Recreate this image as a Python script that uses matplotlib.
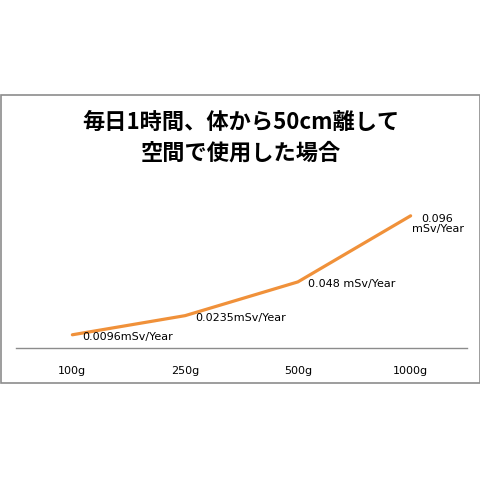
import matplotlib
matplotlib.use("Agg")
import matplotlib.pyplot as plt
from matplotlib.patches import Rectangle

plt.rcParams['font.family'] = ['Noto Sans CJK JP', 'DejaVu Sans']

# data
categories = ['100g', '250g', '500g', '1000g']
dose = [0.0096, 0.0235, 0.048, 0.096]
point_labels = ['0.0096mSv/Year', '0.0235mSv/Year', '0.048 mSv/Year', '0.096\nmSv/Year']
title = '毎日1時間、体から50cm離して\n空間で使用した場合'

W = H = 481
fig = plt.figure(figsize=(W / 100, H / 100), dpi=100)
fig.patch.set_facecolor('white')

# outer chart frame
fig.patches.append(Rectangle((1 / W, 1 - 384 / H), 479 / W, 288 / H,
                             transform=fig.transFigure, fill=False,
                             edgecolor='#8c8c8c', linewidth=1.2))

ax = fig.add_axes([16 / W, 1 - 349 / H, 451 / W, 199 / H])
x = list(range(len(categories)))
ax.plot(x, dose, color='#f0913a', linewidth=2.3, solid_capstyle='round')

ax.set_xlim(-0.5, 3.5)
ax.set_ylim(0, 199 / 1377)
for s in ['top', 'right', 'left']:
    ax.spines[s].set_visible(False)
ax.spines['bottom'].set_color('#8c8c8c')
ax.spines['bottom'].set_linewidth(1)
ax.set_yticks([])
ax.set_xticks(x)
ax.set_xticklabels(categories, fontsize=8, family='DejaVu Sans')
ax.tick_params(axis='x', length=0, pad=12)
ax.patch.set_alpha(0)

for i, (v, lab) in enumerate(zip(dose, point_labels)):
    if i == len(dose) - 1:
        ax.annotate(lab, (i, v), xytext=(27, -7), textcoords='offset pixels',
                    ha='center', va='center', fontsize=8, linespacing=1.0,
                    family='DejaVu Sans')
    else:
        ax.annotate(lab, (i, v), xytext=(10, -1), textcoords='offset pixels',
                    ha='left', va='center', fontsize=8, family='DejaVu Sans')

fig.text(0.5, 1 - 138 / H, title, ha='center', va='center', fontsize=16,
         fontweight='bold', linespacing=1.45)

fig.savefig('out.png', dpi=100)
